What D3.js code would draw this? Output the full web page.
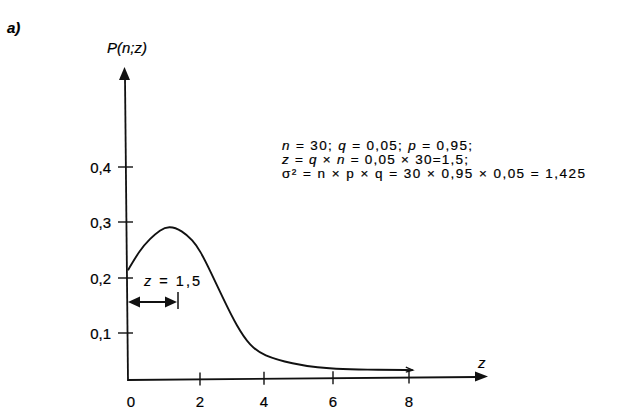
<!DOCTYPE html>
<html>
<head>
<meta charset="utf-8">
<script src="https://cdn.jsdelivr.net/npm/d3@7"></script>
<style>
  html, body { margin: 0; padding: 0; background: #fff; }
  svg { display: block; }
  text { font-family: "Liberation Sans", Arial, Helvetica, sans-serif; fill: #000; stroke: #000; stroke-width: 0.2px; }
</style>
</head>
<body>
<svg id="chart" width="624" height="419"></svg>
<script>
// ---- data ----
const xTickValues = [0, 2, 4, 6, 8];
const xTickLabels = ["0", "2", "4", "6", "8"];
const yTickValues = [0.1, 0.2, 0.3, 0.4];
const yTickLabels = ["0,1", "0,2", "0,3", "0,4"];
// curve P(n;z)
const zValues = [0, 0.33, 0.61, 0.89, 1.14, 1.5, 1.8, 2.0, 2.31, 2.72, 3.16, 3.56, 3.97, 4.84, 5.62, 6.0, 6.84, 8.1];
const pValues = [0.214, 0.25, 0.270, 0.286, 0.293, 0.285, 0.267, 0.249, 0.214, 0.163, 0.111, 0.073, 0.052, 0.034, 0.026, 0.024, 0.022, 0.021];
const zMean = 1.5;
const infoLines = [
  [["n", true], [" = 30; ", false], ["q", true], [" = 0,05; ", false], ["p", true], [" = 0,95;", false]],
  [["z", true], [" = ", false], ["q", true], [" × ", false], ["n", true], [" = 0,05 × 30=1,5;", false]],
  [["σ² = n × p × q = 30 × 0,95 × 0,05 = 1,425", false]]
];

// ---- drawing ----
const svg = d3.select("#chart");
const x = d3.scaleLinear().domain([0, 2, 4, 6, 8]).range([128, 200, 264, 333, 409]);
const y = d3.scaleLinear().domain([0, 0.1, 0.2, 0.3, 0.4]).range([380, 333, 278, 222, 167]);
const x0 = x(0), y0 = y(0);
const stroke = "#111";

// "a)"
svg.append("text").attr("x", 7).attr("y", 33)
  .style("font-size", "15px").style("font-weight", "bold").style("font-style", "italic").text("a)");

// y axis
svg.append("line").attr("x1", x0).attr("y1", y0 + 1).attr("x2", x0 - 3).attr("y2", 78)
  .attr("stroke", stroke).attr("stroke-width", 1.8);
svg.append("path").attr("d", `M${x0 - 3.5},67 L${x0 - 9},80 L${x0 + 2},80 Z`).attr("fill", stroke);
svg.append("text").attr("x", 107).attr("y", 53)
  .style("font-size", "15px").style("font-style", "italic").text("P(n;z)");

// x axis
svg.append("line").attr("x1", x0).attr("y1", y0).attr("x2", 478).attr("y2", y0 - 3)
  .attr("stroke", stroke).attr("stroke-width", 1.8);
svg.append("path").attr("d", `M488,${y0 - 3.5} L475,${y0 - 8.5} L475,${y0 + 1.5} Z`).attr("fill", stroke);
svg.append("text").attr("x", 478).attr("y", 368)
  .style("font-size", "15px").style("font-style", "italic").text("z");

// y ticks
yTickValues.forEach((v, i) => {
  svg.append("line").attr("x1", x0 - 10).attr("x2", x0 + 5).attr("y1", y(v)).attr("y2", y(v))
    .attr("stroke", stroke).attr("stroke-width", 1.4);
  svg.append("text").attr("x", x0 - 17).attr("y", y(v) + 5.5).attr("text-anchor", "end")
    .style("font-size", "15px").text(yTickLabels[i]);
});

// x ticks
xTickValues.forEach((v, i) => {
  const slope = -3 / (478 - x0);
  const yy = y0 + (x(v) - x0) * slope;
  if (v !== 0) {
    svg.append("line").attr("x1", x(v)).attr("x2", x(v)).attr("y1", yy - 7).attr("y2", yy + 6)
      .attr("stroke", stroke).attr("stroke-width", 1.4);
  }
  svg.append("text").attr("x", x(v) + (v === 0 ? 3 : 0)).attr("y", 407).attr("text-anchor", "middle")
    .style("font-size", "15px").text(xTickLabels[i]);
});

// curve
const pts = zValues.map((z, i) => [z, pValues[i]]);
const line = d3.line().x(d => x(d[0])).y(d => y(d[1])).curve(d3.curveBasis);
svg.append("path").datum(pts).attr("d", line).attr("fill", "none")
  .attr("stroke", stroke).attr("stroke-width", 1.9);
// small arrow tip at curve end
const last = pts[pts.length - 1];
const ex = x(last[0]), ey = y(last[1]);
svg.append("path").attr("d", `M${ex - 7},${ey - 3} L${ex},${ey} L${ex - 7},${ey + 2}`)
  .attr("fill", "none").attr("stroke", stroke).attr("stroke-width", 1.3);

// z = 1,5 annotation
const ay = 302;
const ax2 = x(zMean) - 5;
svg.append("line").attr("x1", x0 + 8).attr("x2", ax2 - 8).attr("y1", ay).attr("y2", ay)
  .attr("stroke", stroke).attr("stroke-width", 1.8);
svg.append("path").attr("d", `M${x0},${ay} L${x0 + 12},${ay - 5.5} L${x0 + 12},${ay + 5.5} Z`).attr("fill", stroke);
svg.append("path").attr("d", `M${ax2},${ay} L${ax2 - 12},${ay - 5.5} L${ax2 - 12},${ay + 5.5} Z`).attr("fill", stroke);
svg.append("line").attr("x1", ax2 + 1).attr("x2", ax2 + 1).attr("y1", ay - 10).attr("y2", ay + 7)
  .attr("stroke", stroke).attr("stroke-width", 1.5);
const zt = svg.append("text").attr("x", 144).attr("y", 286).style("font-size", "14.5px")
  .attr("textLength", 56).attr("lengthAdjust", "spacing");
zt.append("tspan").style("font-style", "italic").text("z");
zt.append("tspan").text(" = 1,5");

// info text
const lineWidths = [190, 186, 303];
infoLines.forEach((parts, i) => {
  const t = svg.append("text").attr("x", 282).attr("y", 150 + i * 14)
    .style("font-size", "13.5px")
    .attr("textLength", lineWidths[i]).attr("lengthAdjust", "spacing");
  parts.forEach(p => {
    t.append("tspan").style("font-style", p[1] ? "italic" : "normal").text(p[0]);
  });
});
</script>
</body>
</html>
